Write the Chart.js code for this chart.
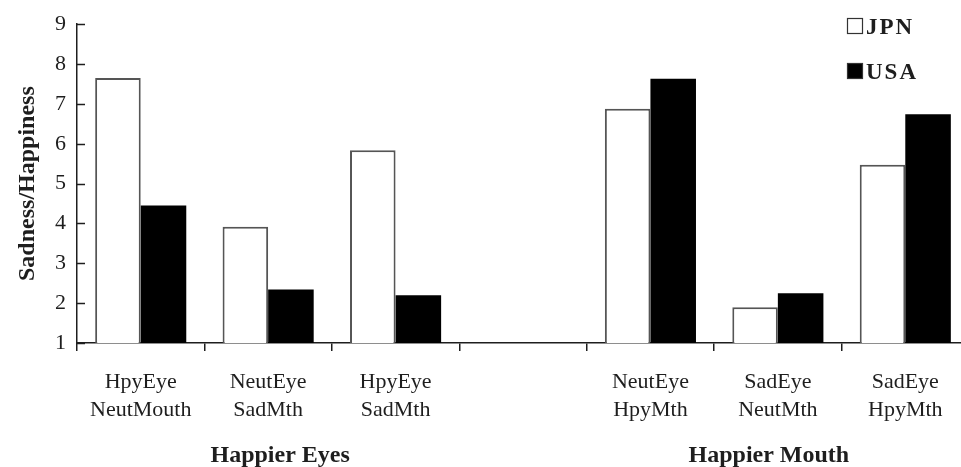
<!DOCTYPE html>
<html>
<head>
<meta charset="utf-8">
<script src="https://cdn.jsdelivr.net/npm/chart.js@4/dist/chart.umd.min.js"></script>
<style>
  html,body{margin:0;padding:0;background:#fff;overflow:hidden;}
  #wrap{width:961px;height:467px;overflow:hidden;}
</style>
</head>
<body>
<div id="wrap"><canvas id="chart" width="975" height="467"></canvas></div>
<script>
// categories (empty slot separates the two groups)
const conditions = [
  ['HpyEye','NeutMouth'],
  ['NeutEye','SadMth'],
  ['HpyEye','SadMth'],
  '',
  ['NeutEye','HpyMth'],
  ['SadEye','NeutMth'],
  ['SadEye','HpyMth']
];
const groups = ['Happier Eyes','Happier Mouth'];
const jpnValues = [7.65, 3.92, 5.84, null, 6.88, 1.9, 5.47];
const usaValues = [4.45, 2.34, 2.2, null, 7.63, 2.25, 6.74];
const yTicks = [1,2,3,4,5,6,7,8,9];

const serif = "'Liberation Serif','Times New Roman',serif";
const ink = '#1e1e1e';

// inward y tick marks, group captions, legend
const extras = {
  id:'extras',
  afterDraw(chart){
    const ctx = chart.ctx;
    const y = chart.scales.y, x = chart.scales.x;
    const left = chart.chartArea.left;
    ctx.save();
    ctx.strokeStyle = ink;
    ctx.lineWidth = 1.5;
    yTicks.forEach(v=>{
      const py = Math.round(y.getPixelForValue(v))+0.5;
      ctx.beginPath(); ctx.moveTo(left, py); ctx.lineTo(left+8, py); ctx.stroke();
    });
    ctx.fillStyle = ink;
    ctx.font = 'bold 24px '+serif;
    ctx.textAlign = 'center';
    ctx.textBaseline = 'alphabetic';
    ctx.fillText(groups[0], x.getPixelForValue(1)+12, 462);
    ctx.fillText(groups[1], x.getPixelForValue(5)-9, 462);

    // legend
    const items = [['JPN','#fff'],['USA','#000']];
    ctx.textAlign = 'left';
    ctx.font = 'bold 23px '+serif;
    ctx.letterSpacing = '2px';
    items.forEach((it,i)=>{
      const by = 18 + i*45;
      ctx.fillStyle = it[1];
      ctx.fillRect(847.5, by+0.5, 15, 15);
      ctx.strokeStyle = '#333';
      ctx.lineWidth = 1.2;
      ctx.strokeRect(847.5, by+0.5, 15, 15);
      ctx.fillStyle = ink;
      ctx.fillText(it[0], 866, by+16);
    });
    ctx.restore();
  }
};

new Chart(document.getElementById('chart'),{
  type:'bar',
  data:{
    labels:conditions,
    datasets:[
      {label:'JPN', data:jpnValues, backgroundColor:'#ffffff', borderColor:'#555555', borderWidth:2},
      {label:'USA', data:usaValues, backgroundColor:'#000000', borderColor:'#000000', borderWidth:0}
    ]
  },
  options:{
    responsive:false,
    animation:false,
    layout:{padding:{left:13, right:6, top:16, bottom:0}},
    datasets:{bar:{categoryPercentage:0.715, barPercentage:1}},
    plugins:{legend:{display:false}, tooltip:{enabled:false}},
    scales:{
      x:{
        offset:true,
        grid:{display:true, drawOnChartArea:false, drawTicks:true, tickLength:8, color:ink, lineWidth:1.5, offset:true},
        border:{display:true, color:ink, width:1.5},
        ticks:{color:ink, padding:17, maxRotation:0, autoSkip:false, font:{family:serif, size:22, lineHeight:1.27}},
        afterFit:s=>{ s.height = 124; }
      },
      y:{
        min:1, max:9,
        grid:{display:true, drawOnChartArea:false, drawTicks:false},
        border:{display:true, color:ink, width:1.5},
        ticks:{stepSize:1, color:ink, padding:11, font:{family:serif, size:22}},
        title:{display:true, text:'Sadness/Happiness', color:ink, padding:0, font:{family:serif, size:24, weight:'bold', lineHeight:1.2}},
        afterFit:s=>{ s.width = 64; }
      }
    }
  },
  plugins:[extras]
});
</script>
</body>
</html>
